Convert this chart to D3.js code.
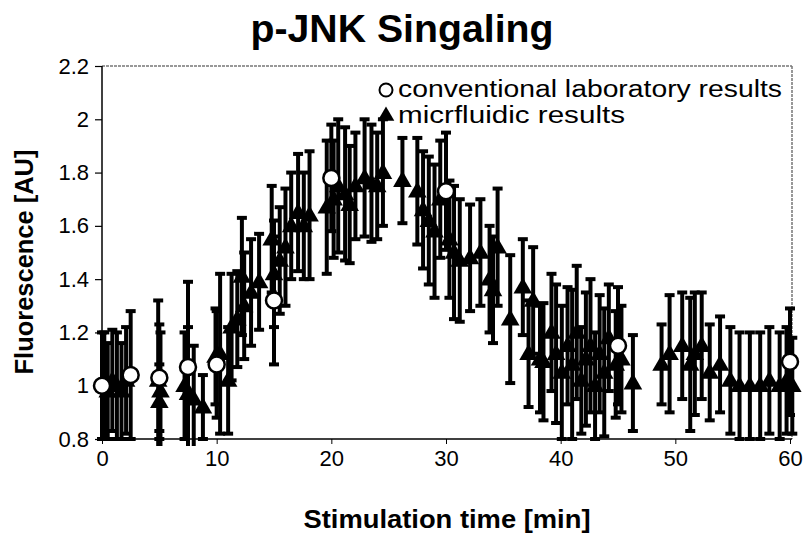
<!DOCTYPE html>
<html>
<head>
<meta charset="utf-8">
<script src="https://cdn.jsdelivr.net/npm/d3@7"></script>
<style>
  body { margin: 0; background: #fff; }
  svg { display: block; }
  .tick-label { font-family: "Liberation Sans", Arial, sans-serif; font-size: 22px; fill: #000; }
  .axis-title { font-family: "Liberation Sans", Arial, sans-serif; font-weight: bold; font-size: 26px; fill: #000; }
  .legend-text { font-family: "Liberation Sans", Arial, sans-serif; font-size: 23px; fill: #000; }
</style>
</head>
<body>
<div id="chart"></div>
<script>
// Conventional laboratory results (circles)
const labTime = [0, 2.5, 5, 7.5, 10, 15, 20, 30, 45, 60];
const labValue = [1.0, 1.04, 1.03, 1.07, 1.08, 1.32, 1.78, 1.73, 1.15, 1.09];
const labError = [0.2, 0.24, 0.2, 0.32, 0.2, 0.24, 0.2, 0.22, 0.22, 0.2];

// Microfluidic results (triangles)
const microTime = [
  0.2, 0.5, 0.9, 1.3, 1.7, 2.1, 4.9, 5.0, 5.1, 7.2, 7.5, 8.0, 8.8, 9.9, 10.3,
  11.0, 11.3, 11.8, 12.2, 12.4, 13.0, 13.7, 14.8, 15.0, 15.5, 16.0, 16.5, 17.1,
  17.6, 18.1, 19.6, 20.2, 20.6, 21.2, 21.6, 22.1, 22.9, 23.5, 24.0, 24.5, 26.2,
  27.5, 28.0, 28.5, 29.0, 29.5, 30.3, 30.7, 31.2, 32.1, 33.0, 33.8, 34.1, 34.5,
  35.6, 36.7, 37.2, 37.6, 38.2, 38.5, 39.2, 39.6, 40.1, 40.6, 41.0, 41.4, 41.8,
  42.2, 42.6, 43.0, 43.4, 43.8, 44.2, 44.8, 45.3, 46.3, 48.8, 49.5, 50.6, 51.3,
  51.7, 52.3, 53.0, 53.9, 54.8, 55.6, 56.5, 57.4, 58.2, 59.1, 59.7, 60.2
];
const microValue = [
  1.00, 0.98, 1.02, 1.00, 0.98, 1.02, 1.02, 0.94, 0.98, 1.00, 0.97, 0.95, 0.92, 1.11, 1.12,
  1.02, 1.22, 1.25, 1.41, 1.30, 1.35, 1.39, 1.55, 1.42, 1.47, 1.52, 1.60, 1.65,
  1.60, 1.64, 1.67, 1.70, 1.75, 1.72, 1.68, 1.75, 1.78, 1.76, 1.75, 1.80, 1.77,
  1.73, 1.66, 1.62, 1.58, 1.70, 1.55, 1.50, 1.47, 1.48, 1.50, 1.40, 1.36, 1.52,
  1.25, 1.37, 1.12, 1.32, 1.10, 1.09, 1.20, 1.12, 1.05, 1.15, 1.08, 1.20, 1.02,
  1.10, 1.15, 1.00, 1.12, 1.05, 1.18, 1.08, 1.10, 1.01, 1.08, 1.12, 1.15, 1.08,
  1.12, 1.15, 1.05, 1.08, 1.02, 1.00, 1.00, 1.00, 1.02, 1.00, 1.02, 1.00
];
const microError = [
  0.20, 0.18, 0.19, 0.20, 0.18, 0.20, 0.30, 0.14, 0.22, 0.20, 0.25, 0.20, 0.12, 0.18, 0.30,
  0.20, 0.20, 0.18, 0.22, 0.20, 0.20, 0.18, 0.20, 0.20, 0.20, 0.22, 0.20, 0.22,
  0.20, 0.24, 0.25, 0.22, 0.25, 0.25, 0.22, 0.20, 0.22, 0.22, 0.20, 0.20, 0.16,
  0.20, 0.22, 0.24, 0.25, 0.22, 0.22, 0.25, 0.23, 0.20, 0.20, 0.20, 0.20, 0.22,
  0.24, 0.18, 0.20, 0.20, 0.20, 0.22, 0.22, 0.26, 0.25, 0.22, 0.28, 0.25, 0.20,
  0.25, 0.25, 0.20, 0.22, 0.24, 0.20, 0.20, 0.20, 0.18, 0.15, 0.22, 0.20, 0.25,
  0.23, 0.20, 0.18, 0.18, 0.20, 0.20, 0.20, 0.20, 0.20, 0.20, 0.20, 0.18
];

const xTicks = [0, 10, 20, 30, 40, 50, 60];
const yTicks = [0.8, 1, 1.2, 1.4, 1.6, 1.8, 2, 2.2];
const legendLabels = ['conventional laboratory results', 'micrfluidic results'];

const width = 809;
const height = 537;
const margin = { top: 66, right: 17, bottom: 98, left: 102 };
const plotRight = width - margin.right;
const plotBottom = height - margin.bottom;

const svg = d3.select('#chart').append('svg')
  .attr('width', width)
  .attr('height', height);

const x = d3.scaleLinear().domain([0, 60]).range([margin.left, 790]);
const y = d3.scaleLinear().domain([0.8, 2.2]).range([plotBottom, margin.top]);

// Title
svg.append('text')
  .attr('x', 402)
  .attr('y', 42)
  .attr('text-anchor', 'middle')
  .attr('textLength', 303)
  .attr('lengthAdjust', 'spacingAndGlyphs')
  .style('font-family', '"Liberation Sans", Arial, sans-serif')
  .style('font-weight', 'bold')
  .style('font-size', '38px')
  .text('p-JNK Singaling');

// Plot frame: dashed grey top and right
svg.append('line')
  .attr('x1', margin.left).attr('x2', plotRight)
  .attr('y1', margin.top).attr('y2', margin.top)
  .attr('stroke', '#777').attr('stroke-width', 1.5).attr('stroke-dasharray', '3,1');
svg.append('line')
  .attr('x1', plotRight).attr('x2', plotRight)
  .attr('y1', margin.top).attr('y2', plotBottom)
  .attr('stroke', '#777').attr('stroke-width', 1.5).attr('stroke-dasharray', '3,1');

// Axes
const xAxis = d3.axisBottom(x).tickValues(xTicks).tickSize(5).tickFormat(d3.format('d'));
const yAxis = d3.axisLeft(y).tickValues(yTicks).tickSize(7).tickFormat(d => d3.format('')(d));

const gx = svg.append('g')
  .attr('transform', `translate(0,${plotBottom})`)
  .call(xAxis);
gx.select('.domain').attr('d', `M${margin.left},0H${plotRight}`).attr('stroke-width', 1.5);
gx.selectAll('.tick line').attr('stroke-width', 1);
gx.selectAll('.tick text').attr('class', 'tick-label').attr('y', 11).attr('dy', '0.71em');

const gy = svg.append('g')
  .attr('transform', `translate(${margin.left},0)`)
  .call(yAxis);
gy.select('.domain').attr('d', `M0,${margin.top}V${plotBottom}`).attr('stroke-width', 1.5);
gy.selectAll('.tick line').attr('stroke-width', 1.2);
gy.selectAll('.tick text').attr('class', 'tick-label').attr('x', -13);

// Axis titles
svg.append('text')
  .attr('class', 'axis-title')
  .attr('x', 447)
  .attr('y', 528)
  .attr('text-anchor', 'middle')
  .attr('textLength', 287)
  .attr('lengthAdjust', 'spacingAndGlyphs')
  .text('Stimulation time [min]');

svg.append('text')
  .attr('class', 'axis-title')
  .attr('transform', `translate(33,262) rotate(-90)`)
  .attr('text-anchor', 'middle')
  .attr('textLength', 225)
  .attr('lengthAdjust', 'spacingAndGlyphs')
  .text('Fluorescence [AU]');

// Clip for marks
svg.append('clipPath').attr('id', 'clip')
  .append('rect')
  .attr('x', margin.left - 12).attr('y', margin.top)
  .attr('width', plotRight - margin.left + 24)
  .attr('height', plotBottom - margin.top + 7);

const marks = svg.append('g').attr('clip-path', 'url(#clip)');

function drawErrorBars(g, times, values, errors) {
  const capW = 5;
  times.forEach((t, i) => {
    const cx = x(t);
    const yTop = y(values[i] + errors[i]);
    const yBot = y(values[i] - errors[i]);
    g.append('line')
      .attr('x1', cx).attr('x2', cx)
      .attr('y1', yTop).attr('y2', yBot)
      .attr('stroke', '#000').attr('stroke-width', 4);
    [yTop, yBot].forEach(cy => {
      g.append('line')
        .attr('x1', cx - capW).attr('x2', cx + capW)
        .attr('y1', cy).attr('y2', cy)
        .attr('stroke', '#000').attr('stroke-width', 4);
    });
  });
}

// Microfluidic series
const microG = marks.append('g');
drawErrorBars(microG, microTime, microValue, microError);
const triangle = d3.symbol().type(d3.symbolTriangle).size(150);
microTime.forEach((t, i) => {
  microG.append('path')
    .attr('d', triangle())
    .attr('transform', `translate(${x(t)},${y(microValue[i]) + 1})`)
    .attr('fill', '#000');
});

// Conventional series
const labG = marks.append('g');
drawErrorBars(labG, labTime, labValue, labError);
labTime.forEach((t, i) => {
  labG.append('circle')
    .attr('cx', x(t))
    .attr('cy', y(labValue[i]))
    .attr('r', 8)
    .attr('fill', '#fff')
    .attr('stroke', '#000')
    .attr('stroke-width', 2.5);
});

// Legend
const legend = svg.append('g');
legend.append('circle')
  .attr('cx', 386).attr('cy', 90).attr('r', 6.5)
  .attr('fill', '#fff').attr('stroke', '#000').attr('stroke-width', 2);
legend.append('path')
  .attr('d', d3.symbol().type(d3.symbolTriangle).size(120)())
  .attr('transform', 'translate(386,116)')
  .attr('fill', '#000');
const legendWidths = [384, 227];
legend.selectAll('text.legend-text')
  .data(legendLabels)
  .enter().append('text')
  .attr('class', 'legend-text')
  .attr('x', 398)
  .attr('y', (d, i) => 97 + i * 26)
  .attr('textLength', (d, i) => legendWidths[i])
  .attr('lengthAdjust', 'spacingAndGlyphs')
  .text(d => d);
</script>
</body>
</html>
